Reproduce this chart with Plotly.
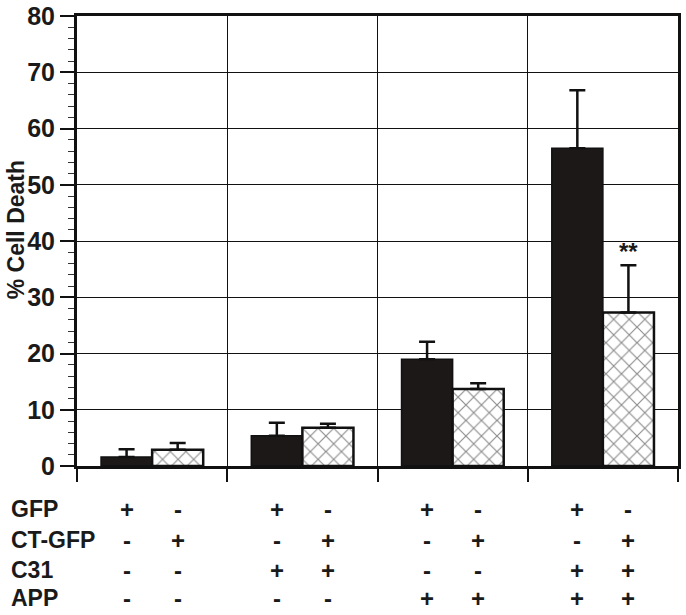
import plotly.graph_objects as go

groups = ["G1", "G2", "G3", "G4"]
gfp_vals = [1.6, 5.4, 19.0, 56.5]
gfp_err = [1.4, 2.3, 3.1, 10.3]
ctgfp_vals = [2.9, 6.8, 13.7, 27.3]
ctgfp_err = [1.2, 0.7, 1.0, 8.4]

row_labels = ["GFP", "CT-GFP", "C31", "APP"]
# signs for each row, per bar (group i: [GFP bar, CT-GFP bar])
signs = {
    "GFP":    [["+", "-"], ["+", "-"], ["+", "-"], ["+", "-"]],
    "CT-GFP": [["-", "+"], ["-", "+"], ["-", "+"], ["-", "+"]],
    "C31":    [["-", "-"], ["+", "+"], ["-", "-"], ["+", "+"]],
    "APP":    [["-", "-"], ["-", "-"], ["+", "+"], ["+", "+"]],
}
y_title = "% Cell Death"
sig_label = "**"
sig_group = 3

FONT = "Liberation Sans, Arial, Helvetica, sans-serif"

fig = go.Figure()
fig.add_trace(go.Bar(
    x=groups, y=gfp_vals, name="GFP",
    marker=dict(color="#1c1818", line=dict(color="#111111", width=1.5)),
    error_y=dict(type="data", array=gfp_err, arrayminus=[0]*4, symmetric=False,
                 color="#111111", thickness=2.5, width=8),
))
fig.add_trace(go.Bar(
    x=groups, y=ctgfp_vals, name="CT-GFP",
    marker=dict(color="white", line=dict(color="#111111", width=2.5),
                pattern=dict(shape="x", fgcolor="#1a1a1a", bgcolor="white",
                             size=11, solidity=0.2)),
    error_y=dict(type="data", array=ctgfp_err, arrayminus=[0]*4, symmetric=False,
                 color="#111111", thickness=2.5, width=8),
))

W, H = 686, 615
Y0 = 466.5   # y of zero line, px
PT = 16      # plot top, px
PL, PR = 77, 678
PH = Y0 - PT
PW = PR - PL

def py(pix):
    return (Y0 - pix) / PH

def px(pix):
    return (pix - PL) / PW

row_pix = [510, 541, 571, 599]
ann = []
for r, lab in enumerate(row_labels):
    ann.append(dict(xref="paper", yref="paper", x=px(9), y=py(row_pix[r]),
                    xanchor="left", yanchor="middle", text=lab, showarrow=False,
                    font=dict(family=FONT, size=23, color="#1a1a1a", weight="bold")))
    for g in range(4):
        for b in range(2):
            ann.append(dict(xref="x", yref="paper", x=g + (-0.17 if b == 0 else 0.17),
                            y=py(row_pix[r]), xanchor="center", yanchor="middle",
                            text=signs[lab][g][b], showarrow=False,
                            font=dict(family=FONT, size=24, color="#1a1a1a", weight="bold")))

ann.append(dict(xref="x", yref="y", x=sig_group + 0.17,
                y=ctgfp_vals[sig_group] + ctgfp_err[sig_group] - 0.25,
                xanchor="center", yanchor="bottom", text=sig_label, showarrow=False,
                font=dict(family=FONT, size=24, color="#1a1a1a", weight="bold")))

ann.append(dict(xref="paper", yref="paper", x=px(15.5), y=py(230),
                xanchor="center", yanchor="middle", textangle=-90, text=y_title,
                showarrow=False,
                font=dict(family=FONT, size=23, color="#1a1a1a", weight="bold")))

fig.update_layout(
    width=W, height=H,
    margin=dict(l=PL, r=W - PR, t=PT, b=H - Y0, autoexpand=False),
    paper_bgcolor="white", plot_bgcolor="white",
    barmode="group", bargap=0.32, bargroupgap=0,
    showlegend=False,
    annotations=ann,
    font=dict(family=FONT, color="#1a1a1a"),
)
fig.update_xaxes(
    type="category", tickson="boundaries", ticks="outside", ticklen=13, tickwidth=1.5,
    tickcolor="#111111", showgrid=True, gridcolor="#111111", gridwidth=1.2,
    showticklabels=False, showline=True, linecolor="#111111", linewidth=3, mirror=True,
    range=[-0.5, 3.5], automargin=False,
)
fig.update_yaxes(
    range=[0, 80], dtick=10, tick0=0, ticks="outside", ticklen=14, tickwidth=2,
    tickcolor="#111111", showgrid=True, gridcolor="#111111", gridwidth=1.2,
    showline=True, linecolor="#111111", linewidth=3, mirror=True,
    zeroline=False, automargin=False, ticklabeloverflow="allow",
    tickfont=dict(family=FONT, size=25, color="#1a1a1a", weight="bold"),
    minor=dict(dtick=2, ticks="outside", ticklen=6, tickwidth=1.2, tickcolor="#333333",
               showgrid=False),
)

# remove the default 8px page margin so the figure sits at the window's corner
fig.write_html("out.html", config={"displayModeBar": False},
               post_script="document.body.style.margin='0';")
